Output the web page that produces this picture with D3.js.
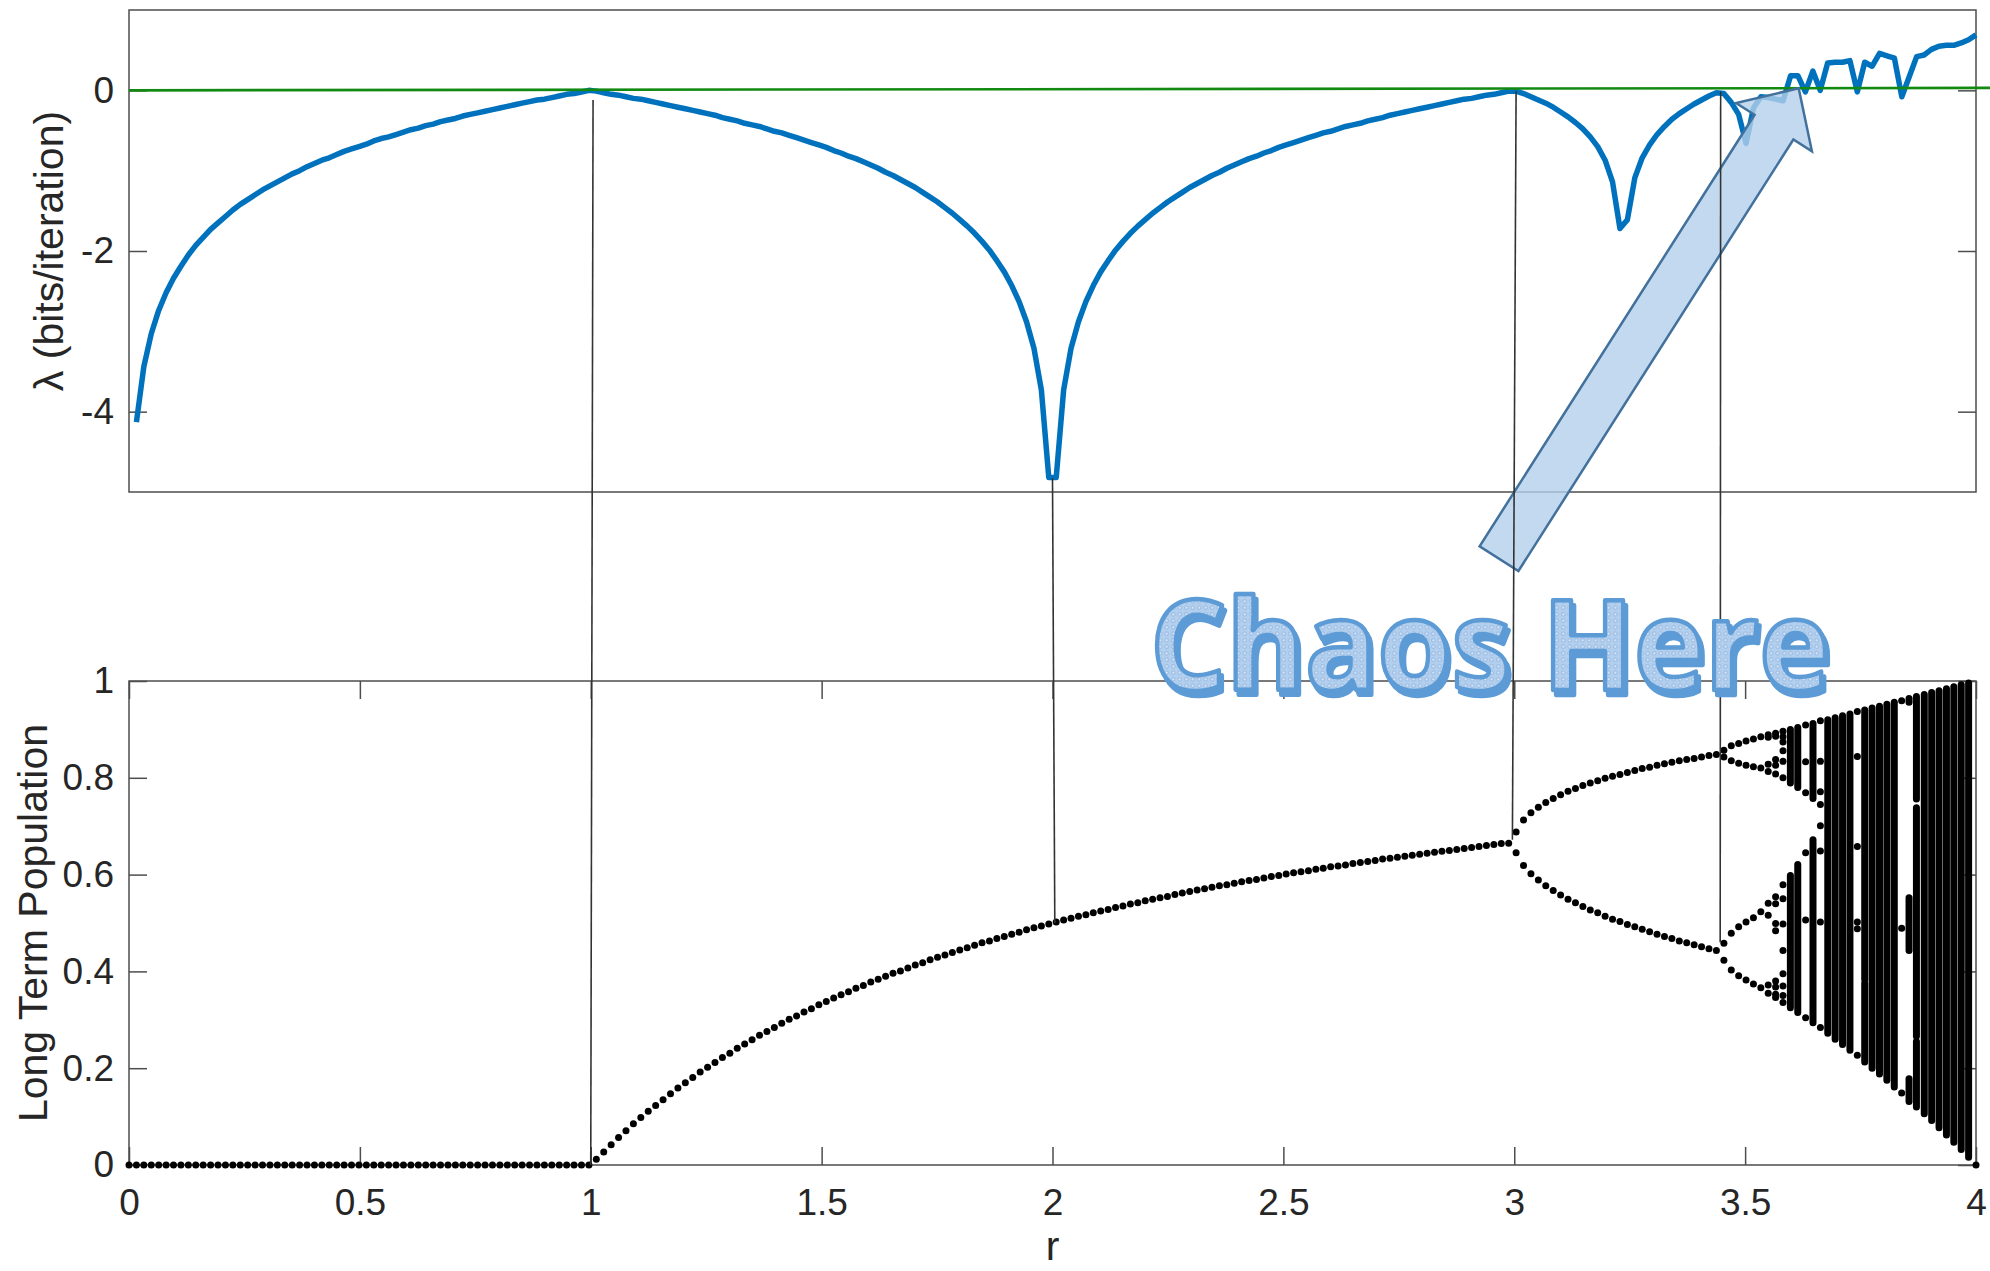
<!DOCTYPE html>
<html>
<head>
<meta charset="utf-8">
<script src="https://cdn.jsdelivr.net/npm/d3@7"></script>
<style>
  body { margin: 0; background: #fff; }
</style>
</head>
<body>
<div id="chart"></div>
<script>
// r was sampled on 250 even steps from 0 to 4: sample index k -> r
const rFirst = 0
const rLast = 4
const rSamples = 250

// Lyapunov exponent, one value per sample, starting at k = 1 (r = 0 is not drawn)
const lyapunov = [
  -4.13,-3.44,-3.03,-2.74,-2.52,-2.34,-2.19,-2.05,-1.93,-1.83,-1.73,-1.65,-1.57,-1.49,-1.42,-1.36,-1.30,-1.24,-1.19,-1.14,
  -1.09,-1.04,-1.00,-0.95,-0.91,-0.87,-0.84,-0.80,-0.76,-0.73,-0.70,-0.67,-0.63,-0.60,-0.58,-0.55,-0.52,-0.49,-0.47,-0.44,
  -0.42,-0.39,-0.37,-0.35,-0.32,-0.30,-0.28,-0.26,-0.24,-0.22,-0.20,-0.18,-0.16,-0.14,-0.12,-0.11,-0.09,-0.07,-0.05,-0.04,
  -0.02,0.00,
  -0.01,-0.03,-0.05,-0.06,-0.08,-0.10,-0.11,-0.13,-0.15,-0.17,-0.19,-0.21,-0.23,-0.25,-0.27,-0.29,-0.31,-0.34,-0.36,-0.38,
  -0.41,-0.43,-0.45,-0.48,-0.51,-0.53,-0.56,-0.59,-0.62,-0.65,-0.68,-0.71,-0.75,-0.78,-0.82,-0.85,-0.89,-0.93,-0.97,-1.02,
  -1.06,-1.11,-1.16,-1.21,-1.27,-1.33,-1.39,-1.46,-1.53,-1.61,-1.69,-1.78,-1.88,-1.99,-2.12,-2.26,-2.43,-2.63,-2.88,-3.21,
  -3.73,-4.82,
  -4.82,-3.73,-3.21,-2.88,-2.63,-2.43,-2.26,-2.12,-1.99,-1.88,-1.78,-1.69,-1.61,-1.53,-1.46,-1.39,-1.33,-1.27,-1.21,-1.16,
  -1.11,-1.06,-1.02,-0.97,-0.93,-0.89,-0.85,-0.82,-0.78,-0.75,-0.71,-0.68,-0.65,-0.62,-0.59,-0.56,-0.53,-0.51,-0.48,-0.45,
  -0.43,-0.41,-0.38,-0.36,-0.34,-0.31,-0.29,-0.27,-0.25,-0.23,-0.21,-0.19,-0.17,-0.15,-0.13,-0.11,-0.10,-0.08,-0.06,-0.05,
  -0.03,-0.01,
  -0.01,-0.04,-0.08,-0.12,-0.16,-0.21,-0.27,-0.33,-0.40,-0.48,-0.58,-0.70,-0.87,-1.14,-1.72,-1.61,-1.09,-0.84,-0.68,-0.55,
  -0.45,-0.36,-0.29,-0.23,-0.17,-0.12,-0.07,-0.03,
  -0.04,-0.15,-0.30,-0.66,-0.22,-0.08,-0.09,-0.11,-0.13,0.18,0.18,-0.02,0.24,0.00,0.34,0.35,0.35,0.37,-0.02,0.35,
  0.30,0.46,0.43,0.40,-0.08,0.17,0.42,0.44,0.51,0.55,0.56,0.56,0.59,0.63,0.69
]

// long term population on the single branch, k = 0 .. 186
const fixedBranch = [
  0,0,0,0,0,0,0,0,0,0,0,0,0,0,0,0,0,0,0,0,0,
  0,0,0,0,0,0,0,0,0,0,0,0,0,0,0,0,0,0,0,0,0,
  0,0,0,0,0,0,0,0,0,0,0,0,0,0,0,0,0,0,0,0,0,
  .012,.027,.042,.057,.071,.085,.098,.111,.123,.135,
  .147,.159,.170,.181,.192,.202,.212,.222,.231,.241,
  .250,.259,.268,.276,.284,.293,.301,.308,.316,.323,
  .331,.338,.345,.352,.358,.365,.371,.378,.384,.390,
  .396,.401,.407,.413,.418,.424,.429,.434,.439,.444,
  .449,.454,.459,.463,.468,.472,.477,.481,.486,.490,
  .494,.498,.502,.506,.510,.514,.517,.521,.525,.528,
  .532,.535,.539,.542,.546,.549,.552,.555,.559,.562,
  .565,.568,.571,.574,.577,.579,.582,.585,.588,.590,
  .593,.596,.598,.601,.604,.606,.608,.611,.613,.616,
  .618,.620,.623,.625,.627,.629,.632,.634,.636,.638,
  .640,.642,.644,.646,.648,.650,.652,.654,.656,.658,
  .660,.662,.664,.665
]

// period-2 branches, k = 187 .. 214
const cycle2Start = 187
const cycle2Upper = [.688,.713,.728,.739,.749,.757,.765,.772,.778,.784,.789,.794,.799,.803,.807,.811,.815,.819,.822,.826,.829,.832,.835,.838,.840,.843,.846,.848]
const cycle2Lower = [.645,.619,.602,.589,.577,.567,.558,.549,.542,.534,.527,.521,.514,.508,.503,.497,.492,.487,.482,.477,.472,.468,.463,.459,.455,.451,.447,.443]

// columns with only a handful of points: [r, populations]
const dotColumns = [
  [3.454, [.857, .843, .458, .423]],
  [3.470, [.866, .835, .479, .403]],
  [3.486, [.871, .830, .492, .391]],
  [3.502, [.876, .826, .502, .382]],
  [3.518, [.880, .823, .511, .374]],
  [3.534, [.885, .820, .523, .366]],
  [3.550, [.889, .884, .828, .813, .541, .516, .372, .355]],
  [3.566, [.892, .886, .838, .826, .808, .554, .540, .499, .484, .380, .368, .353, .346]],
  [3.582, [.896, .885, .874, .856, .834, .800, .579, .550, .498, .443, .395, .370, .350, .336]],
  [3.631, [.909, .833, .769, .645, .506, .304]],
  [3.663, [.918, .834, .771, .745, .701, .649, .502, .284]],
  [3.743, [.937, .844, .658, .502, .488, .227]],
  [3.839, [.959, .489, .149]],
  [4.000, [0]]
]

// chaotic columns drawn as solid runs: [r, [[low, high], ...]]
const bandColumns = [
  [3.598, [[.325, .598], [.789, .900]]],
  [3.614, [[.315, .621], [.780, .904]]],
  [3.647, [[.294, .672], [.757, .912]]],
  [3.679, [[.272, .920]]],
  [3.695, [[.260, .924]]],
  [3.711, [[.249, .928]]],
  [3.727, [[.237, .932]]],
  [3.759, [[.213, .376], [.384, .940]]],
  [3.775, [[.200, .944]]],
  [3.791, [[.188, .948]]],
  [3.807, [[.175, .952]]],
  [3.823, [[.161, .956]]],
  [3.855, [[.131, .178], [.443, .552], [.956, .964]]],
  [3.871, [[.120, .255], [.266, .738], [.756, .968]]],
  [3.888, [[.106, .972]]],
  [3.904, [[.092, .976]]],
  [3.920, [[.077, .980]]],
  [3.936, [[.062, .984]]],
  [3.952, [[.047, .988]]],
  [3.968, [[.032, .992]]],
  [3.984, [[.016, .996]]]
]

const rTicks = [0, 0.5, 1, 1.5, 2, 2.5, 3, 3.5, 4]
const popTicks = [0, 0.2, 0.4, 0.6, 0.8, 1]
const lambdaTicks = [-4, -2, 0]

// guide lines between the panels: [r top, lambda top, r bottom, population bottom]
const guides = [
  [1.005, -0.12, 1.000, 0],
  [2.000, -4.83, 2.005, 0.5],
  [3.004, -0.01, 2.996, 0.672],
  [3.447, -0.01, 3.446, 0.46]
]

// annotation, in top panel units for the arrow and bottom panel units for the text
const arrowTail = [2.967, -5.83]
const arrowTip = [3.616, 0.025]
const noteText = "Chaos Here"
const noteAt = [2.211, 0.981]

const width = 1990
const height = 1271
const axisColor = "#4d4d4d"
const textColor = "#262626"
const tickLen = 18

const rAt = k => rFirst + k * (rLast - rFirst) / (rSamples - 1)

const x = d3.scaleLinear().domain([0, 4]).range([129, 1976])
const yTop = d3.scaleLinear().domain([-5, 1]).range([492, 10])
const yBot = d3.scaleLinear().domain([0, 1]).range([1165, 681])

const svg = d3.select("#chart")
  .append("svg")
    .attr("width", width)
    .attr("height", height)
    .style("font-family", "'Liberation Sans', Arial, Helvetica, sans-serif")

function styleAxis(g) {
  g.select(".domain").remove()
  g.attr("font-family", null).attr("font-size", 37).attr("color", textColor)
  g.selectAll(".tick line").attr("stroke", axisColor).attr("stroke-width", 1.5)
}

function box(yScale) {
  svg.append("rect")
      .attr("x", x(0))
      .attr("y", yScale.range()[1])
      .attr("width", x(4) - x(0))
      .attr("height", yScale.range()[0] - yScale.range()[1])
      .attr("fill", "none")
      .attr("stroke", axisColor)
      .attr("stroke-width", 1.5)
}

// top panel frame
box(yTop)
svg.append("g")
    .attr("transform", `translate(${x(0)},0)`)
    .call(d3.axisLeft(yTop).tickValues(lambdaTicks).tickSize(-tickLen).tickPadding(15).tickFormat(String))
    .call(styleAxis)
svg.append("g")
    .attr("transform", `translate(${x(4)},0)`)
    .call(d3.axisRight(yTop).tickValues(lambdaTicks).tickSize(-tickLen).tickFormat(""))
    .call(styleAxis)

// bottom panel frame
box(yBot)
svg.append("g")
    .attr("transform", `translate(${x(0)},0)`)
    .call(d3.axisLeft(yBot).tickValues(popTicks).tickSize(-tickLen).tickPadding(15).tickFormat(String))
    .call(styleAxis)
svg.append("g")
    .attr("transform", `translate(${x(4)},0)`)
    .call(d3.axisRight(yBot).tickValues(popTicks).tickSize(-tickLen).tickFormat(""))
    .call(styleAxis)
svg.append("g")
    .attr("transform", `translate(0,${yBot(0)})`)
    .call(d3.axisBottom(x).tickValues(rTicks).tickSize(-tickLen).tickPadding(24).tickFormat(String))
    .call(styleAxis)
svg.append("g")
    .attr("transform", `translate(0,${yBot(1)})`)
    .call(d3.axisTop(x).tickValues(rTicks).tickSize(-tickLen).tickFormat(""))
    .call(styleAxis)

// axis labels
svg.append("text")
    .attr("transform", `translate(63,${(yTop.range()[0] + yTop.range()[1]) / 2}) rotate(-90)`)
    .attr("text-anchor", "middle")
    .attr("font-size", 41)
    .attr("fill", textColor)
    .text("λ (bits/iteration)")
svg.append("text")
    .attr("transform", `translate(47,${(yBot.range()[0] + yBot.range()[1]) / 2}) rotate(-90)`)
    .attr("text-anchor", "middle")
    .attr("font-size", 41)
    .attr("fill", textColor)
    .text("Long Term Population")
svg.append("text")
    .attr("x", x(2))
    .attr("y", 1260)
    .attr("text-anchor", "middle")
    .attr("font-size", 41)
    .attr("fill", textColor)
    .text("r")

// Lyapunov curve
const lyapPoints = lyapunov.map((v, i) => [rAt(i + 1), v])
svg.append("path")
    .datum(lyapPoints)
    .attr("fill", "none")
    .attr("stroke", "#0072bd")
    .attr("stroke-width", 5.5)
    .attr("stroke-linejoin", "round")
    .attr("d", d3.line().x(d => x(d[0])).y(d => yTop(d[1])))

// zero line
svg.append("line")
    .attr("x1", x(0))
    .attr("y1", yTop(0))
    .attr("x2", width)
    .attr("y2", yTop(0.03))
    .attr("stroke", "#128a12")
    .attr("stroke-width", 2.6)

// bifurcation diagram
const dots = []
fixedBranch.forEach((v, k) => dots.push([rAt(k), v]))
cycle2Upper.forEach((v, i) => dots.push([rAt(cycle2Start + i), v]))
cycle2Lower.forEach((v, i) => dots.push([rAt(cycle2Start + i), v]))
dotColumns.forEach(([r, vals]) => vals.forEach(v => dots.push([r, v])))

const bif = svg.append("g")
bif.selectAll("circle")
  .data(dots)
  .join("circle")
    .attr("cx", d => x(d[0]))
    .attr("cy", d => yBot(d[1]))
    .attr("r", 3.5)
    .attr("fill", "#000")

const runs = bandColumns.flatMap(([r, segs]) => segs.map(s => [r, s[0], s[1]]))
bif.selectAll("line")
  .data(runs)
  .join("line")
    .attr("x1", d => x(d[0]))
    .attr("x2", d => x(d[0]))
    .attr("y1", d => yBot(d[1]))
    .attr("y2", d => yBot(d[2]))
    .attr("stroke", "#000")
    .attr("stroke-width", 7)
    .attr("stroke-linecap", "round")

// block arrow
const tail = [x(arrowTail[0]), yTop(arrowTail[1])]
const tip = [x(arrowTip[0]), yTop(arrowTip[1])]
const len = Math.hypot(tip[0] - tail[0], tip[1] - tail[1])
const u = [(tip[0] - tail[0]) / len, (tip[1] - tail[1]) / len]
const n = [-u[1], u[0]]
const shaftW = 46, headW = 90, headL = 46
const base = [tip[0] - u[0] * headL, tip[1] - u[1] * headL]
const off = (p, w) => [p[0] + n[0] * w, p[1] + n[1] * w]
const arrowPts = [
  off(tail, shaftW / 2), off(base, shaftW / 2), off(base, headW / 2), tip,
  off(base, -headW / 2), off(base, -shaftW / 2), off(tail, -shaftW / 2)
]
svg.append("path")
    .attr("d", "M" + arrowPts.map(p => p.join(",")).join("L") + "Z")
    .attr("fill", "#b4cfeb")
    .attr("fill-opacity", 0.8)
    .attr("stroke", "#41719c")
    .attr("stroke-width", 2.5)
    .attr("stroke-linejoin", "miter")

// guide lines
svg.append("g")
  .selectAll("line")
  .data(guides)
  .join("line")
    .attr("x1", d => x(d[0]))
    .attr("y1", d => yTop(d[1]))
    .attr("x2", d => x(d[2]))
    .attr("y2", d => yBot(d[3]))
    .attr("stroke", "#333")
    .attr("stroke-width", 1.6)

// "Chaos Here" word art: dotted fill, blue outline and an offset shadow
const defs = svg.append("defs")
const dotsPattern = defs.append("pattern")
    .attr("id", "dotfill")
    .attr("patternUnits", "userSpaceOnUse")
    .attr("width", 6.5)
    .attr("height", 6.5)
dotsPattern.append("rect")
    .attr("width", 6.5)
    .attr("height", 6.5)
    .attr("fill", "#b3cfee")
dotsPattern.append("circle")
    .attr("cx", 3.25)
    .attr("cy", 3.25)
    .attr("r", 1.7)
    .attr("fill", "#dbe8f8")
    .attr("stroke", "#87aedc")
    .attr("stroke-width", 0.9)

const shadow = defs.append("filter")
    .attr("id", "wordshadow")
    .attr("x", "-5%").attr("y", "-10%")
    .attr("width", "110%").attr("height", "130%")
shadow.append("feOffset").attr("in", "SourceAlpha").attr("dx", 3).attr("dy", 5).attr("result", "off")
shadow.append("feFlood").attr("flood-color", "#5b9bd5").attr("result", "col")
shadow.append("feComposite").attr("in", "col").attr("in2", "off").attr("operator", "in").attr("result", "sh")
const merge = shadow.append("feMerge")
merge.append("feMergeNode").attr("in", "sh")
merge.append("feMergeNode").attr("in", "SourceGraphic")

svg.append("text")
    .attr("x", x(noteAt[0]))
    .attr("y", yBot(noteAt[1]))
    .attr("font-family", "'Open Sans', sans-serif")
    .attr("font-weight", 700)
    .attr("font-size", 126)
    .attr("textLength", 680)
    .attr("lengthAdjust", "spacingAndGlyphs")
    .attr("fill", "url(#dotfill)")
    .attr("stroke", "#5b9bd5")
    .attr("stroke-width", 4.5)
    .attr("stroke-linejoin", "round")
    .attr("filter", "url(#wordshadow)")
    .text(noteText)
</script>
</body>
</html>
